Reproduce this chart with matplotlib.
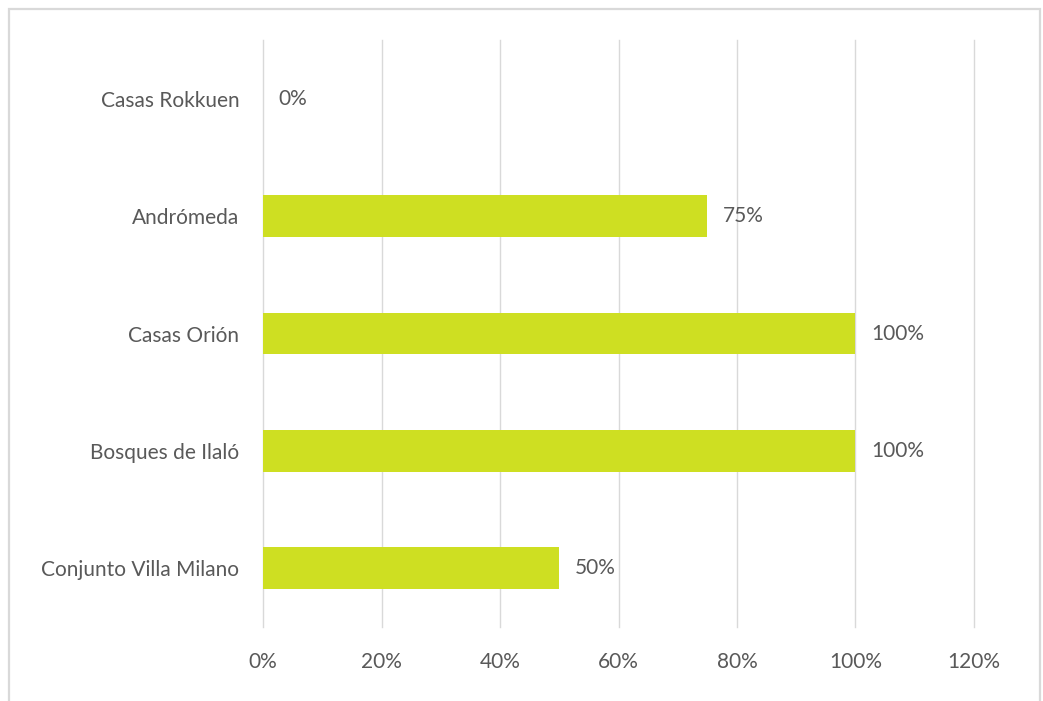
import matplotlib.pyplot as plt
from matplotlib.patches import Rectangle
from matplotlib.ticker import PercentFormatter

# data (bottom to top)
projects = ["Conjunto Villa Milano", "Bosques de Ilaló", "Casas Orión", "Andrómeda", "Casas Rokkuen"]
progress = [0.50, 1.00, 1.00, 0.75, 0.0]

bar_color = "#CEDF22"
text_color = "#595959"
grid_color = "#D9D9D9"

plt.rcParams["font.family"] = ["Lato", "DejaVu Sans"]

fig = plt.figure(figsize=(10.43, 7.01), dpi=100)
ax = fig.add_axes([263 / 1043, 1 - 627 / 701, (974 - 263) / 1043, (627 - 40) / 701])

y = range(len(projects))
ax.barh(y, progress, height=0.355, color=bar_color, zorder=3)

for yi, v in zip(y, progress):
    ax.annotate(f"{v:.0%}", (v, yi), xytext=(11, 0), textcoords="offset points",
                va="center", ha="left", fontsize=15, color=text_color)

ax.set_xlim(0, 1.2)
ax.set_ylim(-0.5, len(projects) - 0.5)
ax.set_xticks([0, 0.2, 0.4, 0.6, 0.8, 1.0, 1.2])
ax.xaxis.set_major_formatter(PercentFormatter(1.0, decimals=0))
ax.set_yticks(list(y))
ax.set_yticklabels(projects)

ax.grid(axis="x", color=grid_color, linewidth=1, zorder=0)
for gl in ax.get_xgridlines():
    gl.set_clip_on(False)
for s in ax.spines.values():
    s.set_visible(False)
ax.tick_params(axis="both", length=0, labelsize=15, labelcolor=text_color)
ax.tick_params(axis="x", pad=18)
ax.tick_params(axis="y", pad=17)

# chart border (bottom edge runs off the image)
fig.patches.append(Rectangle((9 / 1043, -0.05), (1040 - 9) / 1043, 1.05 - 9 / 701,
                             transform=fig.transFigure, fill=False,
                             edgecolor=grid_color, linewidth=1.6))

fig.savefig("out.png", dpi=100)
